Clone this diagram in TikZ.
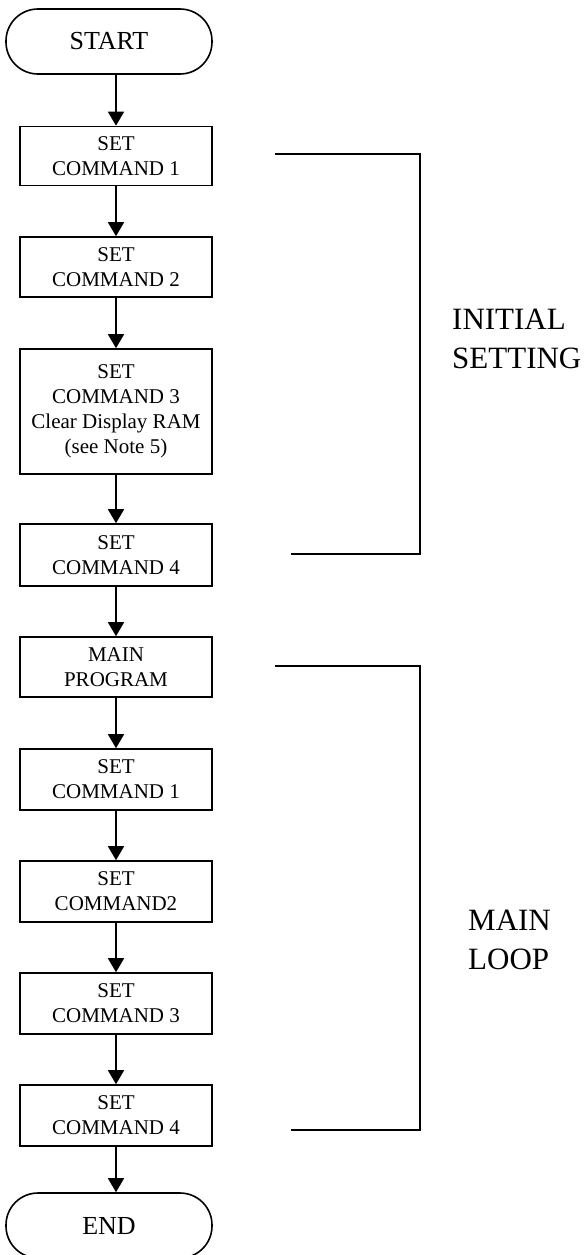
\documentclass[tikz,border=0pt]{standalone}
\usepackage{fontspec}
\setmainfont{Liberation Serif}
\usetikzlibrary{arrows.meta}
\begin{document}
\begin{tikzpicture}[x=1pt,y=-1pt,
  box/.style={draw, line width=1.6pt, minimum width=192pt, minimum height=60pt,
    inner sep=0pt, align=center, font=\fontsize{21}{25}\selectfont},
  term/.style={draw, line width=1.6pt, rounded corners=32pt, minimum width=206pt,
    minimum height=65pt, inner sep=0pt, font=\fontsize{26}{30}\selectfont},
  flow/.style={line width=1.6pt, -{Triangle[width=16pt,length=14pt]}},
  brace/.style={line width=1.6pt},
  sidetext/.style={align=left, inner sep=0pt, font=\fontsize{31}{39}\selectfont}
]
\useasboundingbox (0,0) rectangle (587,1255);

\node[term] (start) at (109,41.5) {START};
\node[box, minimum height=59pt] (b1) at (116,156) {SET\\COMMAND 1};
\node[box] (b2) at (116,267) {SET\\COMMAND 2};
\node[box, minimum height=125pt] (b3) at (116,411.5) {SET\\COMMAND 3\\Clear Display RAM\\(see Note 5)};
\node[box, minimum height=62pt] (b4) at (116,555) {SET\\COMMAND 4};
\node[box] (mp) at (116,667) {MAIN\\PROGRAM};
\node[box, minimum height=61pt] (c1) at (116,779.5) {SET\\COMMAND 1};
\node[box, minimum height=61pt] (c2) at (116,891.5) {SET\\COMMAND2};
\node[box, minimum height=61pt] (c3) at (116,1003.5) {SET\\COMMAND 3};
\node[box, minimum height=61pt] (c4) at (116,1115.5) {SET\\COMMAND 4};
\node[term] (end) at (109,1225.5) {END};

\draw[flow] (start.south -| b1.north) -- (b1.north);
\draw[flow] (b1) -- (b2);
\draw[flow] (b2) -- (b3);
\draw[flow] (b3) -- (b4);
\draw[flow] (b4) -- (mp);
\draw[flow] (mp) -- (c1);
\draw[flow] (c1) -- (c2);
\draw[flow] (c2) -- (c3);
\draw[flow] (c3) -- (c4);
\draw[flow] (c4.south) -- (c4.south |- end.north);

\coordinate (iA) at (275,154);
\coordinate (iB) at (420,154);
\coordinate (iC) at (420,554);
\coordinate (iD) at (291,554);
\draw[brace] (iA) -- (iB) -- (iC) -- (iD);

\coordinate (mA) at (275,666);
\coordinate (mB) at (420,666);
\coordinate (mC) at (420,1130);
\coordinate (mD) at (291,1130);
\draw[brace] (mA) -- (mB) -- (mC) -- (mD);

\node[sidetext, anchor=west] (init) at (452,339) {INITIAL\\SETTING};
\node[sidetext, anchor=west] (loop) at (468,940) {MAIN\\LOOP};
\end{tikzpicture}
\end{document}
